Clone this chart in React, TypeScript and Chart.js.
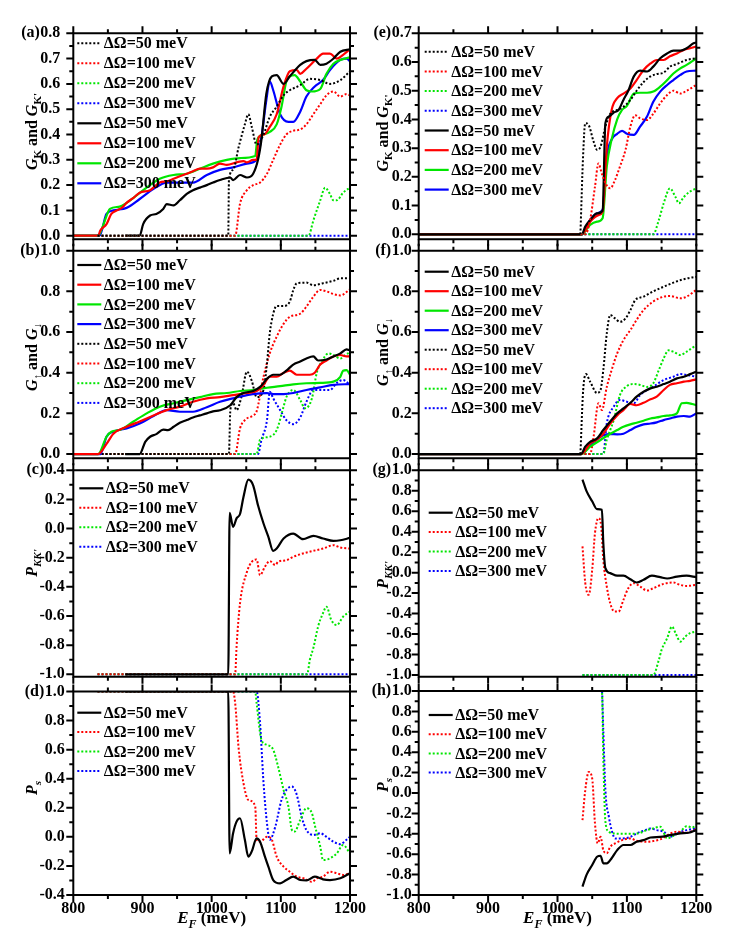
import React, { useEffect, useRef } from "react";
import { Chart, registerables } from "chart.js";

Chart.register(...registerables);

const FAMILY = '"Liberation Serif", "Times New Roman", serif';
const BLACK = "#000000";
const RED = "#ff0000";
const GREEN = "#00e600";
const BLUE = "#0000ff";

type Pt = [number, number];

// ---------- tick values ----------
const X_TICKS = [800, 900, 1000, 1100, 1200];
const X_MINOR = [850, 950, 1050, 1150];
const TICKS_A = [0, 0.1, 0.2, 0.3, 0.4, 0.5, 0.6, 0.7, 0.8];
const TICKS_B = [0, 0.2, 0.4, 0.6, 0.8, 1.0];
const TICKS_C = [-1.0, -0.8, -0.6, -0.4, -0.2, 0, 0.2, 0.4];
const TICKS_D = [-0.4, -0.2, 0, 0.2, 0.4, 0.6, 0.8, 1.0];
const TICKS_E = [0, 0.1, 0.2, 0.3, 0.4, 0.5, 0.6, 0.7];
const TICKS_F = [0, 0.2, 0.4, 0.6, 0.8, 1.0];
const TICKS_G = [-1.0, -0.8, -0.6, -0.4, -0.2, 0, 0.2, 0.4, 0.6, 0.8, 1.0];
const TICKS_H = [-1.0, -0.8, -0.6, -0.4, -0.2, 0, 0.2, 0.4, 0.6, 0.8, 1.0];

const LABELS = ["ΔΩ=50 meV", "ΔΩ=100 meV", "ΔΩ=200 meV", "ΔΩ=300 meV"];

// ---------- (a) G_K and G_K' ----------
const A_S50: Pt[] = [[875,0],[896,0],[901,0.046],[911,0.08],[920,0.086],[930,0.106],[935,0.125],[945,0.12],[954,0.14],[964,0.165],[973,0.18],[983,0.19],[993,0.2],[1002,0.21],[1012,0.22],[1027,0.23],[1031,0.22],[1041,0.24],[1051,0.23],[1060,0.245],[1067,0.3],[1072,0.38],[1079,0.56],[1087,0.63],[1094,0.635],[1104,0.6],[1113,0.63],[1128,0.675],[1137,0.69],[1149,0.695],[1157,0.675],[1166,0.68],[1176,0.7],[1186,0.727],[1200,0.737]];
const A_S100: Pt[] = [[800,0],[836,0],[839,0.02],[848,0.046],[855,0.086],[863,0.1],[870,0.11],[877,0.13],[887,0.15],[896,0.17],[911,0.18],[925,0.21],[935,0.215],[945,0.225],[954,0.235],[964,0.245],[973,0.255],[983,0.265],[993,0.265],[1002,0.27],[1012,0.285],[1022,0.28],[1036,0.29],[1046,0.295],[1051,0.29],[1060,0.3],[1065,0.3],[1068,0.39],[1076,0.4],[1084,0.43],[1094,0.48],[1104,0.59],[1113,0.65],[1123,0.655],[1128,0.64],[1137,0.66],[1152,0.7],[1161,0.72],[1171,0.72],[1181,0.7],[1190,0.715],[1200,0.737]];
const A_S200: Pt[] = [[800,0],[836,0],[843,0.04],[853,0.106],[867,0.115],[877,0.13],[887,0.15],[906,0.19],[925,0.225],[945,0.24],[964,0.245],[983,0.265],[1002,0.285],[1022,0.3],[1041,0.307],[1063,0.315],[1066,0.38],[1075,0.4],[1084,0.41],[1094,0.44],[1101,0.51],[1108,0.61],[1113,0.63],[1120,0.635],[1128,0.61],[1137,0.575],[1145,0.57],[1157,0.58],[1166,0.64],[1176,0.68],[1186,0.695],[1200,0.705]];
const A_S300: Pt[] = [[800,0],[838,0],[848,0.086],[858,0.1],[877,0.11],[896,0.145],[916,0.185],[935,0.21],[954,0.21],[973,0.21],[993,0.24],[1012,0.26],[1031,0.27],[1051,0.285],[1065,0.3],[1072,0.39],[1079,0.535],[1084,0.61],[1089,0.575],[1099,0.48],[1111,0.45],[1118,0.45],[1128,0.49],[1137,0.55],[1149,0.59],[1161,0.615],[1171,0.655],[1186,0.695],[1195,0.7],[1200,0.69]];
const A_D50: Pt[] = [[835,0],[1024,0],[1025,0.22],[1031,0.26],[1039,0.35],[1048,0.44],[1053,0.48],[1058,0.43],[1065,0.36],[1075,0.4],[1084,0.47],[1094,0.51],[1104,0.555],[1113,0.575],[1128,0.595],[1142,0.62],[1157,0.615],[1171,0.6],[1186,0.615],[1200,0.65]];
const A_D100: Pt[] = [[835,0],[1034,0],[1041,0.126],[1051,0.18],[1060,0.2],[1070,0.21],[1080,0.245],[1089,0.3],[1099,0.36],[1108,0.4],[1118,0.415],[1128,0.42],[1137,0.44],[1147,0.48],[1157,0.52],[1166,0.555],[1176,0.57],[1186,0.55],[1195,0.56],[1200,0.555]];
const A_D200: Pt[] = [[835,0],[1140,0],[1147,0.06],[1157,0.14],[1164,0.19],[1171,0.165],[1176,0.14],[1181,0.14],[1190,0.17],[1200,0.19]];
const A_D300: Pt[] = [[835,0],[1200,0]];

// ---------- (b) G_up and G_down ----------
const B_S50: Pt[] = [[875,0],[896,0],[904,0.06],[911,0.085],[920,0.098],[930,0.12],[937,0.118],[945,0.134],[954,0.154],[964,0.167],[973,0.18],[983,0.19],[993,0.2],[1002,0.21],[1012,0.215],[1027,0.24],[1036,0.28],[1046,0.3],[1060,0.31],[1070,0.33],[1080,0.37],[1089,0.39],[1099,0.39],[1108,0.41],[1118,0.44],[1128,0.455],[1137,0.47],[1147,0.48],[1154,0.46],[1166,0.465],[1176,0.48],[1186,0.495],[1195,0.515],[1200,0.51]];
const B_S100: Pt[] = [[800,0],[836,0],[848,0.05],[858,0.1],[877,0.134],[896,0.16],[916,0.19],[935,0.216],[954,0.233],[973,0.257],[993,0.274],[1012,0.28],[1031,0.29],[1051,0.3],[1065,0.31],[1075,0.34],[1084,0.38],[1094,0.38],[1104,0.4],[1113,0.41],[1123,0.39],[1133,0.39],[1142,0.39],[1149,0.4],[1157,0.44],[1166,0.46],[1176,0.48],[1186,0.487],[1195,0.48],[1200,0.48]];
const B_S200: Pt[] = [[800,0],[836,0],[848,0.085],[855,0.11],[867,0.118],[887,0.16],[906,0.2],[925,0.233],[945,0.25],[964,0.265],[983,0.28],[1002,0.295],[1022,0.3],[1041,0.31],[1060,0.315],[1080,0.326],[1099,0.334],[1118,0.343],[1137,0.348],[1157,0.35],[1176,0.356],[1186,0.38],[1190,0.41],[1195,0.413],[1200,0.39]];
const B_S300: Pt[] = [[800,0],[839,0],[843,0.03],[848,0.085],[858,0.11],[877,0.126],[896,0.15],[916,0.187],[935,0.216],[954,0.208],[973,0.208],[993,0.23],[1012,0.257],[1031,0.274],[1051,0.29],[1070,0.298],[1080,0.3],[1089,0.295],[1104,0.295],[1118,0.3],[1137,0.315],[1157,0.328],[1176,0.34],[1200,0.344]];
const B_D50: Pt[] = [[835,0],[1025,0],[1027,0.216],[1031,0.25],[1036,0.216],[1043,0.28],[1051,0.405],[1058,0.36],[1065,0.28],[1075,0.315],[1080,0.446],[1084,0.593],[1089,0.69],[1094,0.728],[1104,0.728],[1113,0.75],[1118,0.806],[1123,0.84],[1137,0.843],[1147,0.83],[1161,0.84],[1176,0.852],[1186,0.864],[1200,0.864]];
const B_D100: Pt[] = [[835,0],[1034,0],[1041,0.126],[1048,0.167],[1060,0.19],[1065,0.21],[1075,0.38],[1084,0.495],[1094,0.577],[1104,0.64],[1113,0.675],[1128,0.69],[1137,0.725],[1147,0.774],[1157,0.807],[1166,0.8],[1176,0.787],[1186,0.78],[1200,0.81]];
const B_D200: Pt[] = [[835,0],[1065,0],[1070,0.07],[1084,0.085],[1094,0.118],[1104,0.233],[1108,0.28],[1118,0.315],[1128,0.266],[1135,0.225],[1145,0.274],[1152,0.4],[1159,0.454],[1169,0.495],[1176,0.487],[1186,0.47],[1193,0.487],[1200,0.5]];
const B_D300: Pt[] = [[835,0],[1067,0],[1072,0.07],[1080,0.167],[1084,0.306],[1089,0.274],[1099,0.216],[1108,0.167],[1118,0.147],[1128,0.18],[1137,0.257],[1147,0.315],[1157,0.315],[1171,0.315],[1181,0.35],[1190,0.364],[1200,0.34]];

// ---------- (c) P_KK' ----------
const C_S50: Pt[] = [[875,-1],[1024,-1],[1026,0.108],[1031,0.012],[1036,0.07],[1041,0.1],[1046,0.217],[1053,0.336],[1060,0.297],[1067,0.16],[1075,0.035],[1082,-0.057],[1089,-0.153],[1094,-0.137],[1104,-0.068],[1118,-0.034],[1132,-0.073],[1147,-0.05],[1161,-0.068],[1176,-0.084],[1186,-0.08],[1200,-0.064]];
const C_D100: Pt[] = [[835,-1],[1034,-1],[1036,-0.81],[1041,-0.513],[1051,-0.297],[1058,-0.228],[1065,-0.212],[1070,-0.32],[1077,-0.262],[1084,-0.223],[1092,-0.25],[1096,-0.228],[1108,-0.217],[1118,-0.194],[1132,-0.171],[1147,-0.153],[1161,-0.137],[1176,-0.114],[1186,-0.13],[1200,-0.137]];
const C_D200: Pt[] = [[835,-1],[1138,-1],[1142,-0.9],[1147,-0.82],[1154,-0.67],[1161,-0.58],[1166,-0.536],[1173,-0.628],[1181,-0.662],[1190,-0.605],[1200,-0.57]];
const C_D300: Pt[] = [[835,-1],[1200,-1]];

// ---------- (d) P_s ----------
const D_S50: Pt[] = [[875,1],[1024,1],[1026,-0.113],[1031,0.025],[1036,0.105],[1041,0.128],[1048,-0.02],[1053,-0.136],[1058,-0.1],[1065,-0.01],[1070,-0.033],[1077,-0.136],[1082,-0.205],[1089,-0.297],[1099,-0.32],[1108,-0.297],[1118,-0.274],[1128,-0.297],[1137,-0.3],[1149,-0.274],[1161,-0.292],[1171,-0.297],[1186,-0.285],[1200,-0.25]];
const D_D100: Pt[] = [[835,1],[1031,1],[1034,0.92],[1039,0.61],[1046,0.37],[1053,0.254],[1063,0.21],[1065,-0.02],[1070,-0.033],[1080,0],[1087,-0.02],[1094,-0.136],[1104,-0.205],[1113,-0.24],[1123,-0.274],[1133,-0.285],[1145,-0.31],[1152,-0.285],[1161,-0.274],[1171,-0.24],[1181,-0.25],[1190,-0.262],[1200,-0.25]];
const D_D200: Pt[] = [[835,1],[1063,1],[1065,0.92],[1072,0.667],[1080,0.633],[1089,0.6],[1096,0.484],[1104,0.323],[1111,0.208],[1116,0.047],[1120,0.036],[1128,0.116],[1137,0.197],[1145,0.162],[1149,0.082],[1157,-0.067],[1161,-0.16],[1171,-0.148],[1181,-0.113],[1190,-0.056],[1200,-0.113]];
const D_D300: Pt[] = [[835,1],[1065,1],[1070,0.78],[1075,0.37],[1080,0.093],[1084,-0.02],[1092,0.07],[1101,0.254],[1108,0.323],[1116,0.346],[1123,0.29],[1130,0.14],[1137,0.047],[1147,0.013],[1157,0.025],[1166,0],[1176,-0.033],[1186,-0.05],[1195,-0.02],[1200,0]];

// ---------- (e) G_K and G_K' ----------
const E_S50: Pt[] = [[800,0],[1035,0],[1040,0.027],[1047,0.05],[1057,0.073],[1065,0.082],[1069,0.387],[1074,0.41],[1081,0.424],[1088,0.433],[1095,0.468],[1102,0.5],[1110,0.55],[1119,0.57],[1129,0.567],[1138,0.584],[1148,0.613],[1158,0.63],[1167,0.64],[1177,0.64],[1186,0.648],[1196,0.665],[1200,0.668]];
const E_S100: Pt[] = [[800,0],[1035,0],[1047,0.044],[1059,0.067],[1065,0.079],[1071,0.305],[1078,0.433],[1086,0.474],[1095,0.49],[1105,0.508],[1114,0.537],[1124,0.572],[1134,0.595],[1143,0.607],[1153,0.607],[1162,0.62],[1172,0.63],[1182,0.642],[1191,0.648],[1200,0.654]];
const E_S200: Pt[] = [[800,0],[1035,0],[1047,0.033],[1057,0.044],[1065,0.056],[1071,0.236],[1078,0.33],[1086,0.4],[1093,0.433],[1100,0.447],[1110,0.49],[1119,0.493],[1129,0.493],[1138,0.497],[1148,0.514],[1158,0.537],[1167,0.56],[1177,0.578],[1186,0.59],[1200,0.613]];
const E_S300: Pt[] = [[800,0],[1035,0],[1047,0.05],[1057,0.073],[1065,0.085],[1071,0.27],[1078,0.33],[1086,0.35],[1093,0.36],[1100,0.35],[1110,0.346],[1119,0.375],[1129,0.41],[1138,0.462],[1148,0.497],[1158,0.52],[1167,0.537],[1177,0.555],[1186,0.567],[1200,0.57]];
const E_D50: Pt[] = [[1033,0],[1037,0.28],[1040,0.387],[1045,0.38],[1052,0.323],[1057,0.294],[1062,0.305],[1069,0.375],[1076,0.42],[1086,0.433],[1095,0.444],[1105,0.468],[1114,0.5],[1124,0.53],[1134,0.55],[1143,0.558],[1153,0.563],[1162,0.584],[1172,0.593],[1186,0.607],[1200,0.613]];
const E_D100: Pt[] = [[1033,0],[1040,0],[1047,0.05],[1054,0.166],[1059,0.247],[1064,0.21],[1071,0.17],[1076,0.16],[1083,0.19],[1090,0.236],[1098,0.294],[1105,0.375],[1112,0.415],[1119,0.404],[1129,0.398],[1138,0.42],[1148,0.456],[1158,0.485],[1167,0.5],[1177,0.49],[1186,0.5],[1200,0.52]];
const E_D200: Pt[] = [[1033,0],[1138,0],[1146,0.05],[1153,0.108],[1162,0.16],[1170,0.13],[1175,0.108],[1182,0.13],[1191,0.149],[1200,0.16]];
const E_D300: Pt[] = [[1033,0],[1200,0]];

// ---------- (f) G_up and G_down ----------
const F_S50: Pt[] = [[800,0],[1034,0],[1040,0.036],[1047,0.06],[1057,0.077],[1066,0.118],[1076,0.16],[1086,0.2],[1095,0.225],[1105,0.252],[1114,0.282],[1124,0.306],[1134,0.323],[1143,0.331],[1153,0.344],[1162,0.356],[1172,0.372],[1182,0.38],[1191,0.393],[1200,0.405]];
const F_S100: Pt[] = [[800,0],[1034,0],[1047,0.052],[1057,0.072],[1066,0.1],[1076,0.15],[1086,0.19],[1095,0.216],[1105,0.246],[1114,0.24],[1124,0.252],[1134,0.269],[1143,0.282],[1153,0.315],[1162,0.34],[1172,0.348],[1182,0.356],[1191,0.36],[1200,0.367]];
const F_S200: Pt[] = [[800,0],[1034,0],[1047,0.036],[1062,0.069],[1076,0.1],[1086,0.118],[1095,0.134],[1105,0.146],[1114,0.154],[1124,0.164],[1134,0.175],[1143,0.18],[1153,0.187],[1162,0.19],[1172,0.2],[1179,0.25],[1186,0.252],[1194,0.246],[1200,0.24]];
const F_S300: Pt[] = [[800,0],[1034,0],[1047,0.044],[1059,0.077],[1066,0.093],[1076,0.098],[1086,0.097],[1095,0.1],[1105,0.118],[1114,0.134],[1124,0.146],[1134,0.15],[1143,0.156],[1153,0.167],[1162,0.175],[1172,0.184],[1182,0.187],[1191,0.184],[1200,0.2]];
const F_D50: Pt[] = [[1033,0],[1037,0.315],[1041,0.393],[1047,0.356],[1057,0.3],[1062,0.315],[1066,0.413],[1071,0.593],[1076,0.684],[1083,0.667],[1090,0.65],[1098,0.667],[1105,0.708],[1112,0.757],[1124,0.774],[1138,0.8],[1153,0.823],[1167,0.843],[1182,0.86],[1200,0.872]];
const F_D100: Pt[] = [[1033,0],[1047,0],[1052,0.085],[1059,0.25],[1064,0.216],[1071,0.33],[1078,0.413],[1086,0.495],[1095,0.56],[1105,0.61],[1114,0.66],[1124,0.708],[1138,0.75],[1153,0.774],[1162,0.777],[1177,0.766],[1186,0.774],[1200,0.807]];
const F_D200: Pt[] = [[1033,0],[1066,0],[1071,0.07],[1081,0.167],[1090,0.29],[1100,0.334],[1110,0.344],[1119,0.34],[1129,0.33],[1138,0.348],[1146,0.413],[1153,0.47],[1160,0.51],[1167,0.503],[1177,0.487],[1186,0.503],[1200,0.536]];
const F_D300: Pt[] = [[1033,0],[1066,0],[1071,0.15],[1081,0.233],[1090,0.266],[1100,0.257],[1110,0.25],[1119,0.29],[1129,0.315],[1138,0.331],[1153,0.364],[1167,0.38],[1177,0.393],[1186,0.389],[1200,0.38]];

// ---------- (g) P_KK' ----------
const G_S50: Pt[] = [[1036,0.91],[1042,0.794],[1050,0.697],[1057,0.62],[1064,0.615],[1066,0.29],[1069,0.044],[1076,-0.005],[1086,-0.03],[1095,-0.03],[1105,-0.064],[1114,-0.096],[1124,-0.07],[1136,-0.03],[1148,-0.044],[1158,-0.057],[1172,-0.038],[1186,-0.03],[1200,-0.044]];
const G_D100: Pt[] = [[1036,0.256],[1040,-0.1],[1045,-0.217],[1050,0.028],[1054,0.387],[1059,0.533],[1063,0.452],[1066,0.126],[1071,-0.135],[1076,-0.3],[1082,-0.38],[1088,-0.38],[1095,-0.266],[1102,-0.152],[1110,-0.103],[1119,-0.135],[1129,-0.175],[1138,-0.152],[1153,-0.11],[1167,-0.096],[1177,-0.12],[1186,-0.13],[1200,-0.12]];
const G_D200: Pt[] = [[1036,-1],[1138,-1],[1146,-0.853],[1150,-0.755],[1158,-0.64],[1165,-0.527],[1170,-0.59],[1177,-0.674],[1184,-0.625],[1191,-0.59],[1200,-0.576]];
const G_D300: Pt[] = [[1036,-1],[1200,-1]];

// ---------- (h) P_s ----------
const H_S50: Pt[] = [[1036,-0.918],[1042,-0.8],[1050,-0.706],[1057,-0.625],[1062,-0.615],[1066,-0.69],[1071,-0.69],[1078,-0.64],[1086,-0.56],[1095,-0.51],[1105,-0.51],[1114,-0.478],[1124,-0.462],[1134,-0.436],[1148,-0.43],[1162,-0.413],[1177,-0.396],[1189,-0.39],[1200,-0.364]];
const H_D100: Pt[] = [[1036,-0.266],[1040,0.028],[1045,0.207],[1050,0.142],[1054,-0.3],[1058,-0.494],[1062,-0.43],[1066,-0.56],[1071,-0.59],[1076,-0.527],[1083,-0.494],[1093,-0.462],[1105,-0.445],[1114,-0.468],[1129,-0.478],[1138,-0.471],[1148,-0.455],[1162,-0.4],[1172,-0.38],[1186,-0.39],[1200,-0.357]];
const H_D200: Pt[] = [[1038,1],[1064,1],[1066,0.354],[1069,-0.28],[1074,-0.38],[1081,-0.396],[1095,-0.4],[1110,-0.4],[1119,-0.39],[1129,-0.364],[1138,-0.347],[1148,-0.33],[1158,-0.445],[1167,-0.42],[1177,-0.38],[1186,-0.325],[1194,-0.338],[1200,-0.315]];
const H_D300: Pt[] = [[1036,1],[1064,1],[1066,0.615],[1069,0.028],[1074,-0.233],[1078,-0.364],[1083,-0.445],[1093,-0.445],[1105,-0.43],[1114,-0.396],[1124,-0.37],[1134,-0.347],[1143,-0.364],[1153,-0.38],[1162,-0.43],[1172,-0.396],[1186,-0.364],[1200,-0.347]];

// ---------- types & helpers ----------
type Run = { t: string; it?: boolean; sub?: boolean };
type SeriesDef = { label: string; color: string; dotted: boolean; data: Pt[] };
type PanelDef = {
  tag: string;
  col: number;
  plotTop: number;
  plotBottom: number;
  yMin: number;
  yMax: number;
  yTicks: number[];
  labelPad: number;
  title: Run[];
  titleY: number;
  series: SeriesDef[];
  legendY: number;
  legendDy: number;
  legendX: number;
  showX: boolean;
};

const COLS = [
  { left: 0, w: 377, plotLeft: 73.3, plotRight: 350, titleX: 36.5 },
  { left: 358, w: 396, plotLeft: 418.7, plotRight: 696.3, titleX: 388 },
];

const sol = (i: number, color: string, data: Pt[]): SeriesDef => ({ label: LABELS[i], color, dotted: false, data });
const dot = (i: number, color: string, data: Pt[]): SeriesDef => ({ label: LABELS[i], color, dotted: true, data });

const T_GK: Run[] = [{ t: "G", it: true }, { t: "K", sub: true }, { t: " and " }, { t: "G", it: true }, { t: "K'", sub: true }];
const T_GS: Run[] = [{ t: "G", it: true }, { t: "↑", sub: true }, { t: " and " }, { t: "G", it: true }, { t: "↓", sub: true }];
const T_PKK: Run[] = [{ t: "P", it: true }, { t: "KK'", sub: true, it: true }];
const T_PS: Run[] = [{ t: "P", it: true }, { t: "s", sub: true, it: true }];
const T_X: Run[] = [{ t: "E", it: true }, { t: "F", sub: true, it: true }, { t: " (meV)" }];

const PANELS: PanelDef[] = [
  { tag: "(a)", col: 0, plotTop: 33.3, plotBottom: 239.3, yMin: -0.0142, yMax: 0.8, yTicks: TICKS_A, labelPad: 13, title: T_GK, titleY: 131.5,
    series: [dot(0, BLACK, A_D50), dot(1, RED, A_D100), dot(2, GREEN, A_D200), dot(3, BLUE, A_D300), sol(0, BLACK, A_S50), sol(1, RED, A_S100), sol(2, GREEN, A_S200), sol(3, BLUE, A_S300)],
    legendY: 43.3, legendDy: 20, legendX: 4, showX: false },
  { tag: "(b)", col: 0, plotTop: 250.7, plotBottom: 458.3, yMin: -0.021, yMax: 1.0, yTicks: TICKS_B, labelPad: 13, title: T_GS, titleY: 357,
    series: [sol(0, BLACK, B_S50), sol(1, RED, B_S100), sol(2, GREEN, B_S200), sol(3, BLUE, B_S300), dot(0, BLACK, B_D50), dot(1, RED, B_D100), dot(2, GREEN, B_D200), dot(3, BLUE, B_D300)],
    legendY: 265, legendDy: 19.7, legendX: 4, showX: false },
  { tag: "(c)", col: 0, plotTop: 470.3, plotBottom: 676.7, yMin: -1.0165, yMax: 0.4, yTicks: TICKS_C, labelPad: 8.5, title: T_PKK, titleY: 563,
    series: [sol(0, BLACK, C_S50), dot(1, RED, C_D100), dot(2, GREEN, C_D200), dot(3, BLUE, C_D300)],
    legendY: 488.3, legendDy: 19.5, legendX: 6, showX: false },
  { tag: "(d)", col: 0, plotTop: 691.5, plotBottom: 895, yMin: -0.4, yMax: 1.0, yTicks: TICKS_D, labelPad: 8.5, title: T_PS, titleY: 788,
    series: [sol(0, BLACK, D_S50), dot(1, RED, D_D100), dot(2, GREEN, D_D200), dot(3, BLUE, D_D300)],
    legendY: 712.7, legendDy: 19.4, legendX: 4, showX: true },
  { tag: "(e)", col: 1, plotTop: 33.3, plotBottom: 239.3, yMin: -0.0174, yMax: 0.7, yTicks: TICKS_E, labelPad: 7, title: T_GK, titleY: 133,
    series: [dot(0, BLACK, E_D50), dot(1, RED, E_D100), dot(2, GREEN, E_D200), dot(3, BLUE, E_D300), sol(0, BLACK, E_S50), sol(1, RED, E_S100), sol(2, GREEN, E_S200), sol(3, BLUE, E_S300)],
    legendY: 51.7, legendDy: 19.7, legendX: 6, showX: false },
  { tag: "(f)", col: 1, plotTop: 250.7, plotBottom: 458.3, yMin: -0.021, yMax: 1.0, yTicks: TICKS_F, labelPad: 7, title: T_GS, titleY: 352,
    series: [sol(0, BLACK, F_S50), sol(1, RED, F_S100), sol(2, GREEN, F_S200), sol(3, BLUE, F_S300), dot(0, BLACK, F_D50), dot(1, RED, F_D100), dot(2, GREEN, F_D200), dot(3, BLUE, F_D300)],
    legendY: 271.7, legendDy: 19.5, legendX: 6, showX: false },
  { tag: "(g)", col: 1, plotTop: 470.3, plotBottom: 676.7, yMin: -1.0166, yMax: 1.0, yTicks: TICKS_G, labelPad: 7, title: T_PKK, titleY: 575,
    series: [sol(0, BLACK, G_S50), dot(1, RED, G_D100), dot(2, GREEN, G_D200), dot(3, BLUE, G_D300)],
    legendY: 512.7, legendDy: 19.4, legendX: 10, showX: false },
  { tag: "(h)", col: 1, plotTop: 691, plotBottom: 895, yMin: -1.0, yMax: 1.0, yTicks: TICKS_H, labelPad: 7, title: T_PS, titleY: 785,
    series: [sol(0, BLACK, H_S50), dot(1, RED, H_D100), dot(2, GREEN, H_D200), dot(3, BLUE, H_D300)],
    legendY: 715, legendDy: 19.2, legendX: 10, showX: true },
];

const fmt = (v: number) => (Math.abs(v) < 1e-9 ? "0.0" : v.toFixed(1));

function drawRich(ctx: CanvasRenderingContext2D, runs: Run[], x: number, y: number, size: number, subSize: number, subDy: number, rotate: boolean) {
  ctx.save();
  ctx.translate(x, y);
  if (rotate) ctx.rotate(-Math.PI / 2);
  ctx.textAlign = "left";
  ctx.textBaseline = "alphabetic";
  ctx.fillStyle = "#000";
  const fontOf = (r: Run) => `${r.it ? "italic " : ""}bold ${r.sub ? subSize : size}px ${FAMILY}`;
  let total = 0;
  const widths = runs.map((r) => {
    ctx.font = fontOf(r);
    const w = ctx.measureText(r.t).width;
    total += w;
    return w;
  });
  let cx = -total / 2;
  runs.forEach((r, i) => {
    ctx.font = fontOf(r);
    ctx.fillText(r.t, cx, r.sub ? subDy : 0);
    cx += widths[i];
  });
  ctx.restore();
}

function geometry(p: PanelDef) {
  const c = COLS[p.col];
  const top = Math.floor(p.plotTop - 30);
  const bottom = p.showX ? 944 : Math.ceil(p.plotBottom + 30);
  return { c, left: c.left, top, w: c.w, h: bottom - top };
}

function makeDecor(p: PanelDef) {
  const g = geometry(p);
  return {
    id: "decor",
    afterDatasetsDraw(chart: any) {
      const ctx: CanvasRenderingContext2D = chart.ctx;
      const a = chart.chartArea;
      const xs = chart.scales.x;
      const ys = chart.scales.y;
      const xpx = (v: number) => a.left + ((v - 800) / 400) * (a.right - a.left);
      const xp = (v: number) => {
        const r = xs.getPixelForValue(v);
        return Number.isFinite(r) ? r : xpx(v);
      };
      ctx.save();
      ctx.globalAlpha = 1;
      ctx.globalCompositeOperation = "source-over";
      ctx.setLineDash([]);
      ctx.strokeStyle = "rgb(0,0,0)";
      ctx.lineWidth = 2;
      ctx.lineCap = "butt";
      ctx.beginPath();
      ctx.rect(a.left, a.top, a.right - a.left, a.bottom - a.top);
      ctx.stroke();
      const XMAJ = 7, XMIN = 4, YMAJ = 7, YMIN = 4;
      ctx.beginPath();
      X_TICKS.forEach((v) => {
        const px = xp(v);
        ctx.moveTo(px, a.top); ctx.lineTo(px, a.top - XMAJ);
        ctx.moveTo(px, a.bottom); ctx.lineTo(px, a.bottom + XMAJ);
      });
      X_MINOR.forEach((v) => {
        const px = xp(v);
        ctx.moveTo(px, a.top); ctx.lineTo(px, a.top - XMIN);
        ctx.moveTo(px, a.bottom); ctx.lineTo(px, a.bottom + XMIN);
      });
      p.yTicks.forEach((v, i) => {
        const py = ys.getPixelForValue(v);
        ctx.moveTo(a.left, py); ctx.lineTo(a.left - YMAJ, py);
        ctx.moveTo(a.right, py); ctx.lineTo(a.right + YMAJ, py);
        if (i < p.yTicks.length - 1) {
          const pm = ys.getPixelForValue((v + p.yTicks[i + 1]) / 2);
          ctx.moveTo(a.left, pm); ctx.lineTo(a.left - YMIN, pm);
          ctx.moveTo(a.right, pm); ctx.lineTo(a.right + YMIN, pm);
        }
      });
      ctx.stroke();
      ctx.restore();
    },
    afterDraw(chart: any) {
      const ctx: CanvasRenderingContext2D = chart.ctx;
      const a = chart.chartArea;
      const ys = chart.scales.y;
      const toX = (px: number) => px - g.left;
      const toY = (py: number) => py - g.top;
      ctx.save();
      // legend
      const x0 = a.left + p.legendX;
      const x1 = x0 + 24;
      const tx = x1 + 2.5;
      p.series.forEach((s, i) => {
        const y = toY(p.legendY + i * p.legendDy);
        ctx.beginPath();
        ctx.strokeStyle = s.color;
        ctx.lineWidth = s.dotted ? 2 : 2.2;
        ctx.setLineDash(s.dotted ? [2, 2] : []);
        ctx.moveTo(x0, y);
        ctx.lineTo(x1, y);
        ctx.stroke();
        ctx.setLineDash([]);
        ctx.fillStyle = "#000";
        ctx.font = `bold 16px ${FAMILY}`;
        ctx.textAlign = "left";
        ctx.textBaseline = "middle";
        ctx.fillText(s.label, tx, y + 1);
      });

      // panel tag next to top tick label
      ctx.font = `bold 16px ${FAMILY}`;
      const topLabel = fmt(p.yTicks[p.yTicks.length - 1]);
      const lw = ctx.measureText(topLabel).width;
      ctx.textAlign = "right";
      ctx.textBaseline = "middle";
      ctx.fillStyle = "#000";
      ctx.fillText(p.tag, a.left - p.labelPad - lw - 0.5, ys.getPixelForValue(p.yMax));

      // y title
      drawRich(ctx, p.title, toX(g.c.titleX), toY(p.titleY), 16, 11, 4, true);

      // x title
      if (p.showX) {
        drawRich(ctx, T_X, (a.left + a.right) / 2, a.bottom + 28, 17, 12, 5, false);
      }
      ctx.restore();
    },
  };
}

function PanelChart({ p }: { p: PanelDef }) {
  const ref = useRef<HTMLCanvasElement | null>(null);
  const g = geometry(p);
  useEffect(() => {
    if (!ref.current) return;
    const c = g.c;
    const tickFont = { family: FAMILY, size: 16, weight: "bold" as const };
    const chart = new Chart(ref.current, {
      type: "line",
      data: {
        datasets: p.series.map((s) => ({
          label: s.label,
          data: s.data.map(([x, y]) => ({ x, y })),
          borderColor: s.color,
          backgroundColor: s.color,
          borderWidth: s.dotted ? 2 : 2.2,
          borderDash: s.dotted ? [2, 2] : [],
          borderCapStyle: "butt" as const,
          pointRadius: 0,
          fill: false,
          cubicInterpolationMode: "monotone" as const,
        })),
      },
      options: {
        responsive: false,
        animation: false,
        events: [],
        layout: {
          padding: {
            left: 0,
            top: p.plotTop - g.top,
            right: g.w - (c.plotRight - c.left),
            bottom: 0,
          },
        },
        plugins: { legend: { display: false }, tooltip: { enabled: false }, title: { display: false } },
        scales: {
          x: {
            type: "linear",
            position: "bottom",
            min: 800,
            max: 1200,
            display: true,
            grid: { display: false, drawTicks: false },
            border: { display: false },
            ticks: { display: p.showX, font: tickFont, color: "#000", padding: 4, autoSkip: false, maxRotation: 0, callback: (v: any) => String(v) },
            afterBuildTicks: (s: any) => { s.ticks = X_TICKS.map((v) => ({ value: v })); },
            afterFit: (s: any) => { s.height = g.top + g.h - p.plotBottom; },
          },
          y: {
            type: "linear",
            min: p.yMin,
            max: p.yMax,
            grid: { display: false, drawTicks: false },
            border: { display: false },
            ticks: { font: tickFont, color: "#000", padding: p.labelPad, autoSkip: false, callback: (v: any) => fmt(Number(v)) },
            afterBuildTicks: (s: any) => { s.ticks = p.yTicks.map((v) => ({ value: v })); },
            afterFit: (s: any) => { s.width = c.plotLeft - c.left; },
          },
        },
      } as any,
      plugins: [makeDecor(p)],
    });
    return () => chart.destroy();
  }, []);
  return (
    <canvas
      ref={ref}
      width={g.w}
      height={g.h}
      style={{ position: "absolute", left: g.left, top: g.top, width: g.w, height: g.h }}
    />
  );
}

export default function App() {
  return (
    <div style={{ position: "absolute", left: 0, top: 0, width: 754, height: 944, background: "#ffffff", overflow: "hidden" }}>
      {PANELS.map((p) => (
        <PanelChart key={p.tag} p={p} />
      ))}
    </div>
  );
}
